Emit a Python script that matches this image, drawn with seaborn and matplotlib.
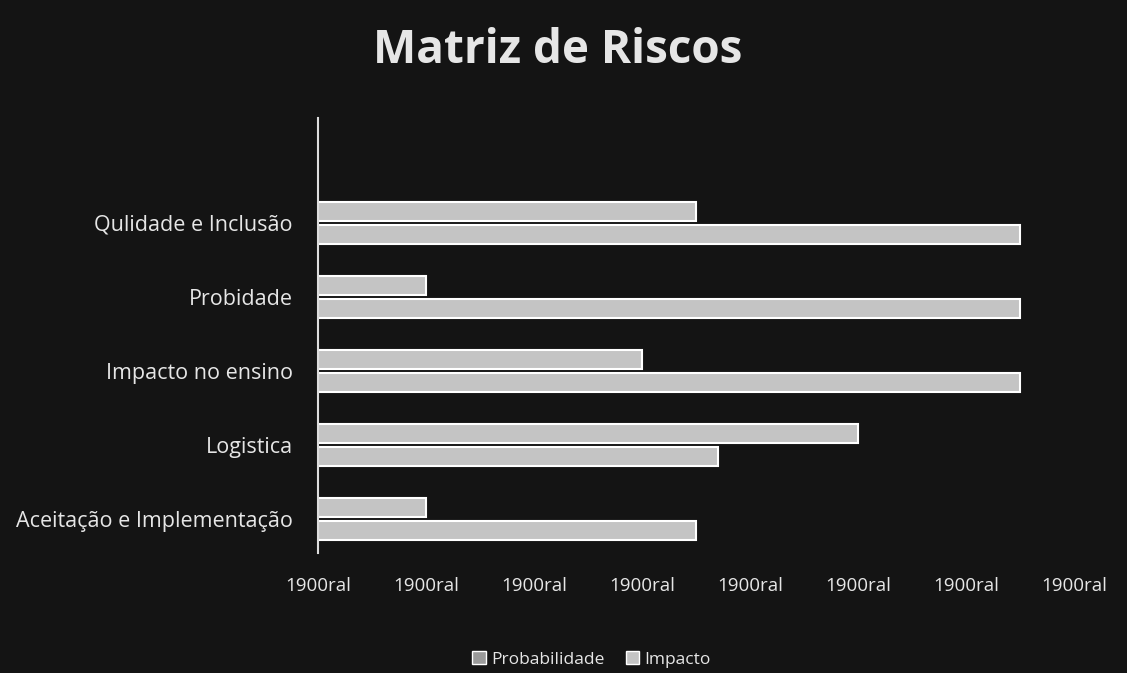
import pandas as pd
import matplotlib.pyplot as plt
import seaborn as sns
from matplotlib.patches import Patch

# Data (top to bottom)
categories = ['Qulidade e Inclusão', 'Probidade', 'Impacto no ensino',
              'Logistica', 'Aceitação e Implementação']
probabilidade = [6.5, 6.5, 6.5, 3.7, 3.5]   # lower bar of each pair
impacto = [3.5, 1.0, 3.0, 5.0, 1.0]         # upper bar of each pair
tick_values = [0, 1, 2, 3, 4, 5, 6, 7]
tick_labels = ['1900ral'] * 8

df = pd.DataFrame({
    'categoria': categories * 2,
    'valor': impacto + probabilidade,
    'serie': ['Impacto'] * 5 + ['Probabilidade'] * 5,
})

bg = '#141414'
bar_col = '#c4c4c4'
txt = '#e6e6e6'

sns.set_style('dark')
plt.rcParams['font.family'] = ['Open Sans', 'DejaVu Sans']

fig = plt.figure(figsize=(11.27, 6.73), dpi=100, facecolor=bg)
ax = fig.add_axes([0.282, 0.178, 0.671, 0.647])
ax.set_facecolor(bg)

sns.barplot(data=df, y='categoria', x='valor', hue='serie',
            hue_order=['Impacto', 'Probabilidade'], order=categories,
            orient='h', width=0.62, palette=[bar_col, bar_col],
            edgecolor='white', linewidth=1.5, legend=False, ax=ax)

# small gap between the two bars of a pair
for p in ax.patches:
    h = p.get_height()
    p.set_y(p.get_y() + 0.03)
    p.set_height(h - 0.06)

ax.set_xlim(0, 7)
ax.set_ylim(4.46, -1.42)
ax.set_xticks(tick_values)
ax.set_xticklabels(tick_labels, color=txt, fontsize=13.5)
ax.tick_params(axis='x', length=0, pad=17)
ax.tick_params(axis='y', length=0, pad=18, labelsize=15.5, labelcolor=txt)
ax.set_xlabel('')
ax.set_ylabel('')
ax.grid(False)
for s in ['top', 'right', 'bottom']:
    ax.spines[s].set_visible(False)
ax.spines['left'].set_color('#dddddd')
ax.spines['left'].set_linewidth(1.5)

fig.suptitle('Matriz de Riscos', y=0.96, x=0.495, fontsize=33,
             fontweight='bold', color=txt)

handles = [Patch(facecolor='#9a9a9a', edgecolor='white', label='Probabilidade'),
           Patch(facecolor=bar_col, edgecolor='white', label='Impacto')]
fig.legend(handles=handles, loc='center', bbox_to_anchor=(0.525, 0.02),
           ncol=2, frameon=False, fontsize=12.5, labelcolor=txt,
           handlelength=0.8, handleheight=0.8, handletextpad=0.3,
           columnspacing=1.2)

fig.savefig('out.png', dpi=100, facecolor=bg)
